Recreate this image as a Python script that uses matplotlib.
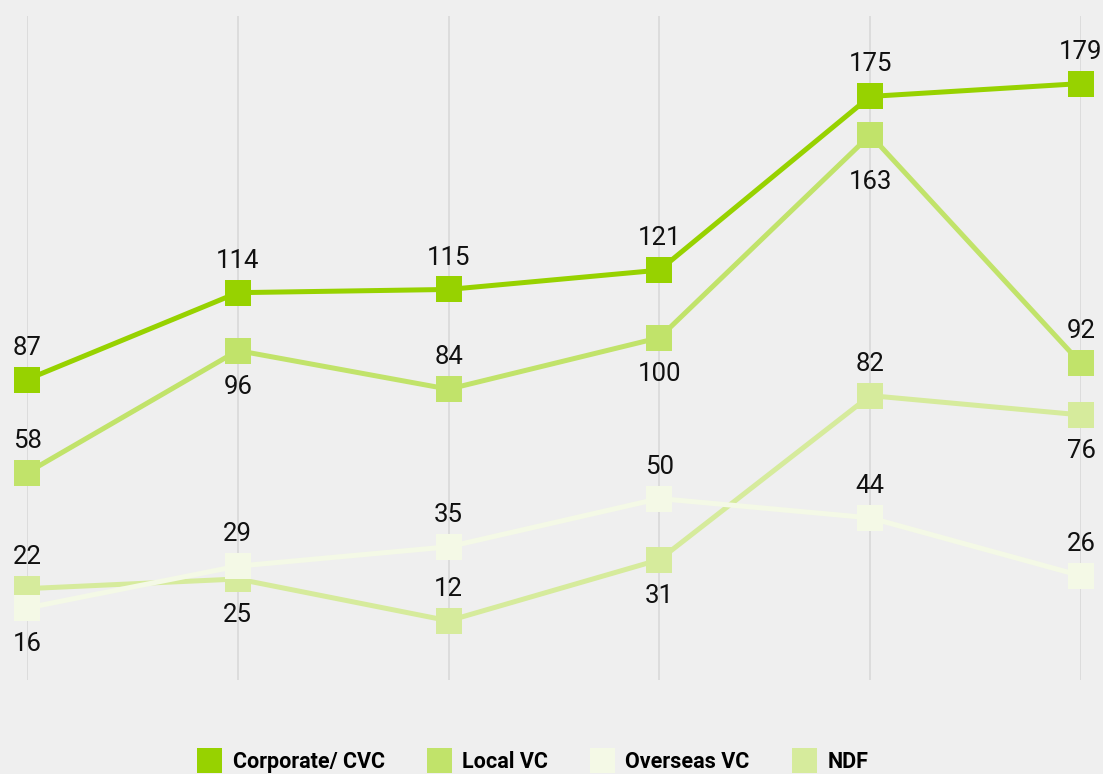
import matplotlib
matplotlib.use("Agg")
import matplotlib.pyplot as plt
from matplotlib.lines import Line2D

plt.rcParams["font.family"] = ["Roboto", "DejaVu Sans"]

# Data
series_names = ["Corporate/ CVC", "Local VC", "Overseas VC", "NDF"]
corporate = [87, 114, 115, 121, 175, 179]
local_vc = [58, 96, 84, 100, 163, 92]
overseas_vc = [16, 29, 35, 50, 44, 26]
ndf = [22, 25, 12, 31, 82, 76]

# label side for each point (1 = above, -1 = below)
corporate_pos = [1, 1, 1, 1, 1, 1]
local_pos = [1, -1, 1, -1, -1, 1]
overseas_pos = [-1, 1, 1, 1, 1, 1]
ndf_pos = [1, -1, 1, -1, 1, -1]

colors = ["#97d200", "#c1e36a", "#f4f9e6", "#d6eb9c"]
bg = "#efefef"

W, H = 1103, 774
fig = plt.figure(figsize=(W / 100, H / 100), dpi=100, facecolor=bg)
ax = fig.add_axes([27 / W, 1 - 680 / H, (1081 - 27) / W, (680 - 16) / H])
ax.set_facecolor(bg)

x = list(range(len(corporate)))
ax.set_xlim(0, len(x) - 1)
ax.set_ylim(-6.4, 200)
for s in ax.spines.values():
    s.set_visible(False)
ax.set_xticks([])
ax.set_yticks([])
for xi in x:
    ax.axvline(xi, color="#dadada", lw=1.3, zorder=0)

# draw order: NDF first, then overseas, local, corporate on top
order = [(ndf, ndf_pos, 3), (overseas_vc, overseas_pos, 2),
         (local_vc, local_pos, 1), (corporate, corporate_pos, 0)]
z = 2
for vals, pos, ci in order:
    ax.plot(x, vals, color=colors[ci], lw=3.6, marker="s", ms=18.7, mew=0,
            clip_on=False, zorder=z, solid_joinstyle="miter")
    z += 1
    for xi, v, p in zip(x, vals, pos):
        off = 23 if p > 0 else -26
        if v == 163:
            off = -34
        ax.annotate(str(v), (xi, v), xytext=(0, off), textcoords="offset points",
                    ha="center", va="center", fontsize=18.5, color="#111111",
                    zorder=10, annotation_clip=False)

handles = [Line2D([], [], ls="none", marker="s", ms=18, mew=0, color=c) for c in colors]
fig.legend(handles, series_names, loc="center left",
           bbox_to_anchor=(197 / W, 1 - 762 / H), ncol=4, frameon=False,
           prop={"family": "Roboto", "weight": "bold", "size": 15.5},
           handlelength=1.15, handletextpad=0.5, columnspacing=1.95,
           borderpad=0, borderaxespad=0)

fig.savefig("out.png", dpi=100, facecolor=bg)
